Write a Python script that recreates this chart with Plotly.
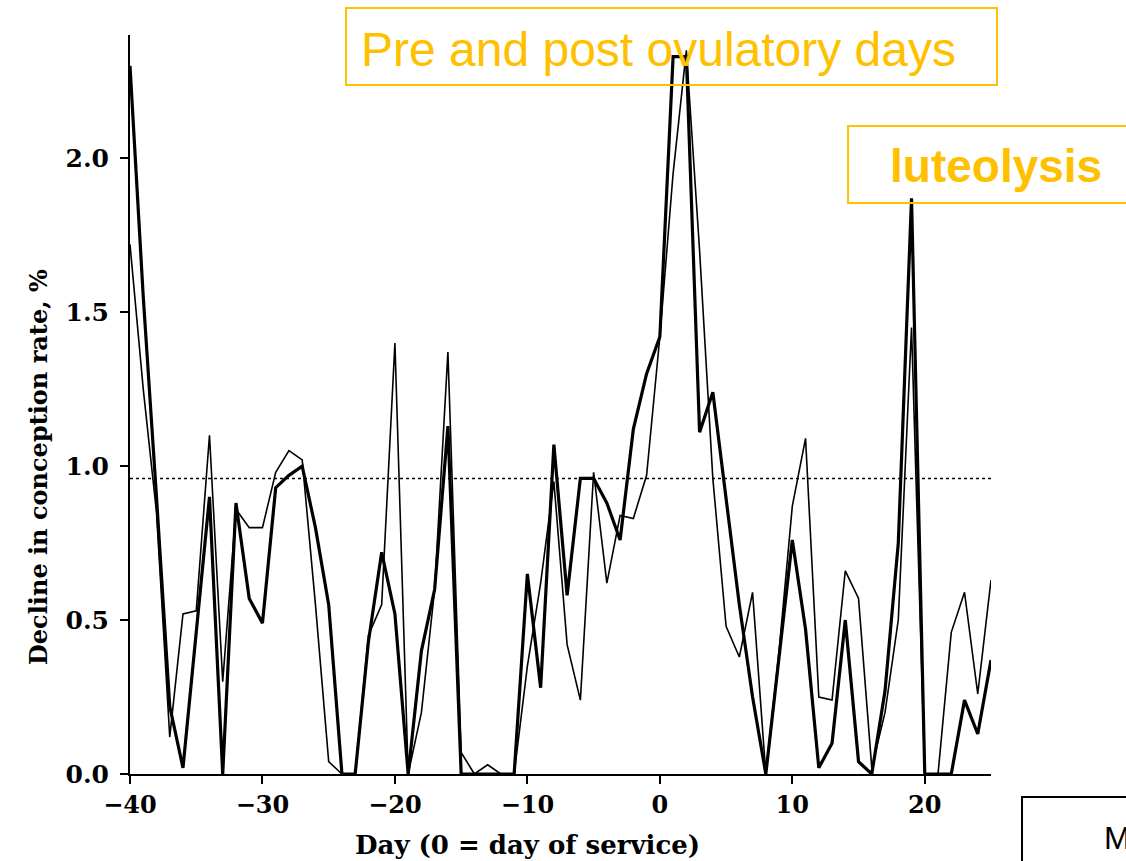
import plotly.graph_objects as go

days = list(range(-40, 26))

thick_series = [
    2.30, 1.55, 0.90, 0.22, 0.02, 0.45, 0.90, 0.00, 0.88, 0.57,
    0.49, 0.93, 0.97, 1.00, 0.80, 0.55, 0.00, 0.00, 0.43, 0.72,
    0.52, 0.00, 0.40, 0.60, 1.13, 0.00, 0.00, 0.00, 0.00, 0.00,
    0.65, 0.28, 1.07, 0.58, 0.96, 0.96, 0.88, 0.76, 1.12, 1.30,
    1.42, 2.33, 2.33, 1.11, 1.24, 0.90, 0.55, 0.25, 0.00, 0.38,
    0.76, 0.47, 0.02, 0.10, 0.50, 0.04, 0.00, 0.27, 0.75, 1.87,
    0.00, 0.00, 0.00, 0.24, 0.13, 0.37,
]

thin_series = [
    1.72, 1.25, 0.85, 0.12, 0.52, 0.53, 1.10, 0.30, 0.86, 0.80,
    0.80, 0.98, 1.05, 1.02, 0.55, 0.04, 0.00, 0.00, 0.45, 0.55,
    1.40, 0.00, 0.20, 0.60, 1.37, 0.07, 0.00, 0.03, 0.00, 0.00,
    0.35, 0.62, 0.95, 0.42, 0.24, 0.98, 0.62, 0.84, 0.83, 0.97,
    1.42, 1.95, 2.35, 1.70, 0.96, 0.48, 0.38, 0.59, 0.00, 0.40,
    0.87, 1.09, 0.25, 0.24, 0.66, 0.57, 0.02, 0.20, 0.50, 1.45,
    0.00, 0.00, 0.46, 0.59, 0.26, 0.63,
]

mean_level = 0.96
x_ticks = [-40, -30, -20, -10, 0, 10, 20]
y_ticks = [0.0, 0.5, 1.0, 1.5, 2.0]

ORANGE = "#FFC000"
SERIF = "DejaVu Serif"

fig = go.Figure()
fig.add_trace(go.Scatter(x=days, y=thin_series, mode="lines",
                         line=dict(color="black", width=1.6), showlegend=False))
fig.add_trace(go.Scatter(x=days, y=thick_series, mode="lines",
                         line=dict(color="black", width=3.2), showlegend=False))

fig.add_shape(type="line", xref="x", yref="y", x0=-40, x1=25,
              y0=mean_level, y1=mean_level,
              line=dict(color="black", width=1.5, dash="dot"))

# annotation boxes
fig.add_shape(type="rect", xref="paper", yref="paper",
              x0=0.2509, x1=1.007, y0=0.9323, y1=1.0365,
              line=dict(color=ORANGE, width=2))
fig.add_annotation(xref="paper", yref="paper", x=0.6144, y=0.9810,
                   text="Pre and post ovulatory days", showarrow=False,
                   xanchor="center", yanchor="middle",
                   font=dict(family="Liberation Sans", size=48, color=ORANGE))
fig.add_shape(type="rect", xref="paper", yref="paper",
              x0=0.834, x1=1.2, y0=0.7727, y1=0.8769,
              line=dict(color=ORANGE, width=2))
fig.add_annotation(xref="paper", yref="paper", x=(996 - 130) / 861, y=(774 - 166) / 739,
                   text="<b>luteolysis</b>", showarrow=False,
                   xanchor="center", yanchor="middle",
                   font=dict(family="Liberation Sans", size=46, color=ORANGE))
fig.add_shape(type="rect", xref="paper", yref="paper",
              x0=(1022 - 130) / 861, x1=1.25, y0=-0.2, y1=(774 - 797) / 739,
              line=dict(color="black", width=2))
fig.add_annotation(xref="paper", yref="paper", x=(1102 - 130) / 861, y=(774 - 838) / 739,
                   text="M", showarrow=False, xanchor="left", yanchor="middle",
                   font=dict(family="Liberation Sans", size=32, color="black"))

# axis titles
fig.add_annotation(xref="paper", yref="paper", x=(527 - 130) / 861, y=(774 - 845) / 739,
                   text="Day (0 = day of service)", showarrow=False,
                   xanchor="center", yanchor="middle",
                   font=dict(family=SERIF, size=26, color="black", weight="bold"))
fig.add_annotation(xref="paper", yref="paper", x=(38 - 130) / 861, y=(774 - 467) / 739,
                   text="Decline in conception rate, %", showarrow=False, textangle=-90,
                   xanchor="center", yanchor="middle",
                   font=dict(family=SERIF, size=24, color="black", weight="bold"))

fig.update_layout(
    width=1126, height=861,
    margin=dict(l=130, r=135, t=35, b=87),
    paper_bgcolor="white", plot_bgcolor="white",
    xaxis=dict(range=[-40, 25], tickvals=x_ticks, showgrid=False, zeroline=False,
               showline=True, linecolor="black", linewidth=2,
               ticks="outside", ticklen=8, tickwidth=2, tickcolor="black",
               tickfont=dict(family=SERIF, size=24, color="black", weight="bold")),
    yaxis=dict(range=[0, 2.4], tickvals=y_ticks, tickformat=".1f", showgrid=False,
               zeroline=False, showline=True, linecolor="black", linewidth=2,
               ticks="outside", ticklen=8, tickwidth=2, tickcolor="black",
               ticklabelstandoff=6,
               tickfont=dict(family=SERIF, size=25, color="black", weight="bold")),
)

fig.write_html(
    "out.html",
    config={"displayModeBar": False},
    post_script="document.body.style.margin='0';document.body.style.overflow='hidden';",
)
